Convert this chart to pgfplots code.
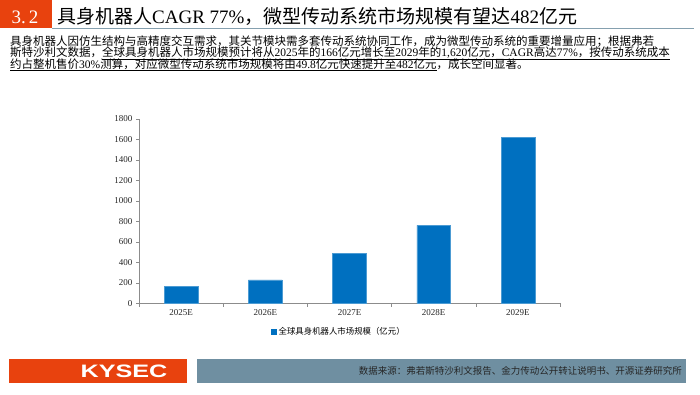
\documentclass[border=0pt]{standalone}
\usepackage{pgfplots}
\pgfplotsset{compat=1.18}
\usepackage{fontspec}
\setmainfont{Liberation Serif}
\newfontfamily\cjk{Noto Sans CJK SC}
\newfontfamily\sans{Liberation Sans}
\definecolor{kyorange}{HTML}{E8420E}
\definecolor{kygray}{HTML}{6F8FA1}
\definecolor{barblue}{HTML}{0070C0}
\definecolor{axgray}{HTML}{8C8C8C}
\begin{document}
\begin{tikzpicture}
\path[use as bounding box, fill=white] (0,0) rectangle (700pt,-394pt);
% header
\fill[kyorange] (0,0) rectangle (52pt,-28pt);
\draw[kygray!85, line width=1.2pt] (52pt,-28.2pt) -- (694pt,-28.2pt);
\node[anchor=base, inner sep=0, text=white, font=\fontsize{19}{19}\selectfont] at (25pt,-23pt) {3.\,2};
\node[anchor=base west, inner sep=0, font=\fontsize{19}{19}\selectfont] at (57pt,-23pt) {{\cjk 具身机器人}CAGR 77\%{\cjk ，微型传动系统市场规模有望达}482{\cjk 亿元}};
% body
\node[anchor=base west, inner sep=0, font=\fontsize{11.5}{12}\selectfont] at (10pt,-45pt) {\cjk 具身机器人因仿生结构与高精度交互需求，其关节模块需多套传动系统协同工作，成为微型传动系统的重要增量应用；根据弗若};
\node[anchor=base west, inner sep=0, font=\fontsize{11.5}{12}\selectfont] at (10pt,-56.5pt) {{\cjk 斯特沙利文数据，}\underline{{\cjk 全球具身机器人市场规模预计将从}2025{\cjk 年的}166{\cjk 亿元增长至}2029{\cjk 年的}1,620{\cjk 亿元，}CAGR{\cjk 高达}77\%{\cjk ，按传动系统成本}}};
\node[anchor=base west, inner sep=0, font=\fontsize{11.5}{12}\selectfont] at (10pt,-68pt) {\underline{{\cjk 约占整机售价}30\%{\cjk 测算，对应微型传动系统市场规模将由}49.8{\cjk 亿元快速提升至}482{\cjk 亿元}}{\cjk ，成长空间显著。}};
% chart
\begin{axis}[
  at={(139pt,-303.3pt)}, anchor=south west,
  scale only axis, width=421pt, height=184.3pt,
  xmin=-0.5, xmax=4.5, ymin=0, ymax=1800,
  ytick={0,200,...,1800},
  xtick={0,1,2,3,4},
  xticklabels={2025E,2026E,2027E,2028E,2029E},
  minor xtick={-0.5,0.5,1.5,2.5,3.5,4.5},
  axis x line*=bottom, axis y line*=left,
  axis line style={draw=axgray, line width=0.6pt, -},
  tick align=outside, xtick pos=bottom, ytick pos=left,
  major x tick style={draw=none},
  minor x tick style={draw=axgray, line width=0.6pt},
  major y tick style={draw=axgray, line width=0.6pt},
  minor tick length=3.5pt, major tick length=3pt,
  tick label style={font=\fontsize{9}{10}\selectfont, text=black!85},
  /pgf/number format/assume math mode=true,
  /pgf/number format/1000 sep={},
  legend style={at={(0.475,-0.156)}, anchor=center, draw=none, fill=none,
    font=\cjk\fontsize{8.4}{10}\selectfont, inner sep=1pt},
  legend image code/.code={\fill[barblue] (0pt,-2.5pt) rectangle (5pt,2.5pt);},
]
\addplot[ybar, bar width=33.7pt, fill=barblue, draw=barblue!70!white, line width=0.4pt]
  coordinates {(0,166) (1,230) (2,486) (3,760) (4,1620)};
\addlegendentry{全球具身机器人市场规模（亿元）}
\end{axis}
% footer
\fill[kyorange] (9pt,-359pt) rectangle (187pt,-383pt);
\node[text=white, inner sep=0, font=\sans\bfseries\fontsize{18}{18}\selectfont, xscale=1.4] at (124pt,-371.3pt) {KYSEC};
\fill[kygray] (197pt,-359pt) rectangle (686pt,-383pt);
\node[anchor=east, inner sep=0, text=black!85, font=\cjk\fontsize{9.5}{10}\selectfont] at (682pt,-371.3pt) {数据来源：弗若斯特沙利文报告、金力传动公开转让说明书、开源证券研究所};
\end{tikzpicture}
\end{document}
